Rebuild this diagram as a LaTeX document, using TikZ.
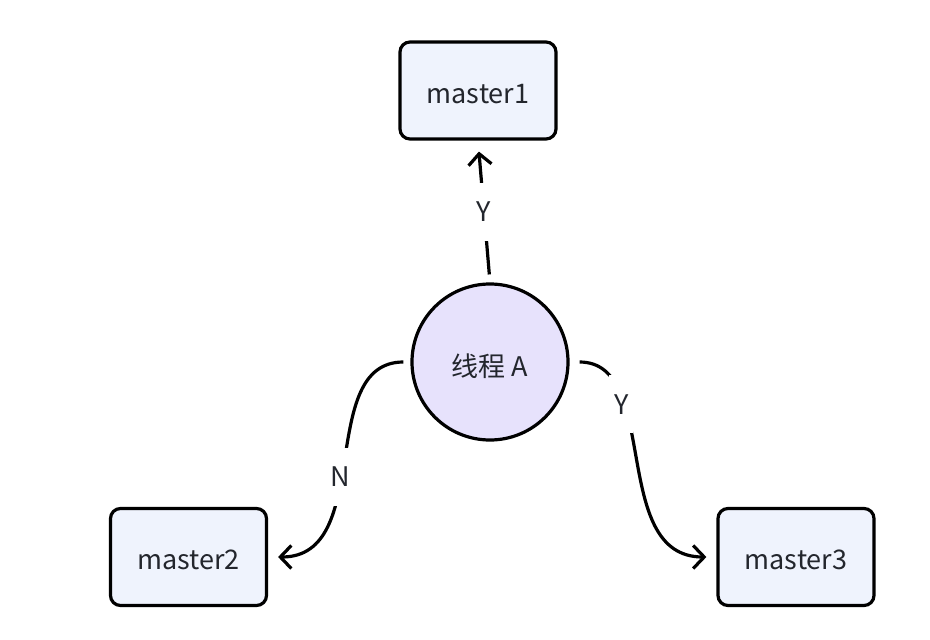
\documentclass[tikz,border=0pt]{standalone}
\usepackage{fontspec}
\setmainfont{Noto Sans CJK SC}
\usetikzlibrary{arrows.meta}
\definecolor{boxfill}{RGB}{239,243,253}
\definecolor{circfill}{RGB}{231,226,252}
\definecolor{txt}{RGB}{35,38,45}
\tikzset{
  mbox/.style={draw=black, line width=3.2pt, rounded corners=10pt, fill=boxfill,
    minimum width=156pt, minimum height=97pt, text=txt, font=\fontsize{27}{32}\selectfont,
    text height=27pt, text depth=2pt},
  thread/.style={circle, draw=black, line width=3.2pt, fill=circfill,
    minimum size=156pt, inner sep=0pt, text=txt, font=\fontsize{27}{32}\selectfont,
    text height=31pt, text depth=2pt},
  conn/.style={line width=3.2pt, -{Straight Barb[length=11pt,width=23pt]}},
  lbl/.style={fill=white, text=txt, font=\fontsize{27}{32}\selectfont,
    inner sep=0pt, minimum width=24pt, minimum height=58pt}
}
\begin{document}
\begin{tikzpicture}[x=1pt,y=-1pt]
\useasboundingbox (0,0) rectangle (930,640);
\node[mbox] (m1) at (478,90.5) {master1};
\node[mbox] (m2) at (188.5,557) {master2};
\node[mbox] (m3) at (796,557) {master3};
\node[thread] (a) at (490,362) {线程 A};
\draw[conn, shorten <=8pt, shorten >=11pt] (a.north) -- node[lbl, pos=0.5] {Y} (m1.south);
\draw[conn, shorten <=7pt, shorten >=10pt] (a.west) to[out=180, in=0, out distance=95pt, in distance=107pt] node[lbl, pos=0.56] {N} (m2.east);
\draw[conn, shorten <=10pt, shorten >=10pt] (a.east) to[out=0, in=180, out distance=92pt, in distance=108pt] node[lbl, pos=0.3] {Y} (m3.west);
\end{tikzpicture}
\end{document}
